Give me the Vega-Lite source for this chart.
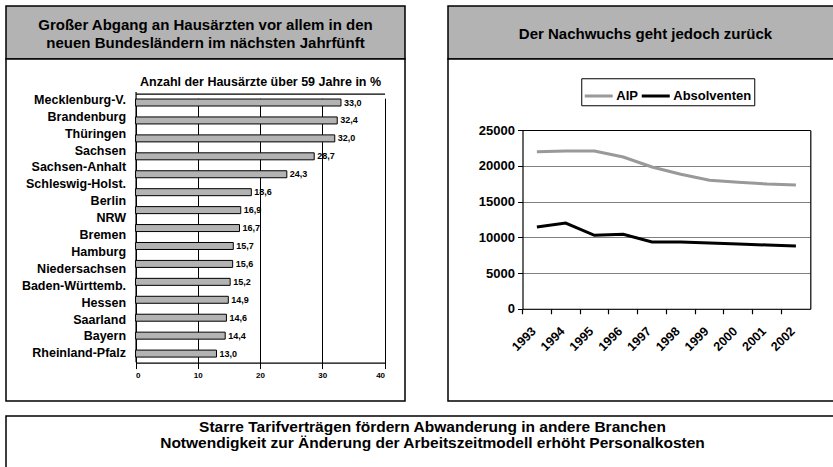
{
  "$schema": "https://vega.github.io/schema/vega-lite/v6.json",
  "padding": {"left": 5, "top": 5, "right": 0, "bottom": 0},
  "spacing": 13,
  "background": "white",
  "config": {
    "font": "Liberation Sans",
    "locale": {"number": {"decimal": ",", "thousands": ".", "grouping": [3], "currency": ["", " €"]}},
    "text": {"color": "black"}
  },
  "datasets": {
    "laender": [
      {"land": "Mecklenburg-V."}, {"land": "Brandenburg"}, {"land": "Thüringen"}, {"land": "Sachsen"},
      {"land": "Sachsen-Anhalt"}, {"land": "Schleswig-Holst."}, {"land": "Berlin"}, {"land": "NRW"},
      {"land": "Bremen"}, {"land": "Hamburg"}, {"land": "Niedersachsen"}, {"land": "Baden-Württemb."},
      {"land": "Hessen"}, {"land": "Saarland"}, {"land": "Bayern"}, {"land": "Rheinland-Pfalz"}
    ],
    "werte": [
      {"nr": 1, "wert": 33.0}, {"nr": 2, "wert": 32.4}, {"nr": 3, "wert": 32.0}, {"nr": 4, "wert": 28.7},
      {"nr": 5, "wert": 24.3}, {"nr": 6, "wert": 18.6}, {"nr": 7, "wert": 16.9}, {"nr": 8, "wert": 16.7},
      {"nr": 9, "wert": 15.7}, {"nr": 10, "wert": 15.6}, {"nr": 11, "wert": 15.2}, {"nr": 12, "wert": 14.9},
      {"nr": 13, "wert": 14.6}, {"nr": 14, "wert": 14.4}, {"nr": 15, "wert": 13.0}
    ],
    "nachwuchs": [
      {"jahr": "1993", "serie": "AIP", "wert": 22000}, {"jahr": "1994", "serie": "AIP", "wert": 22100},
      {"jahr": "1995", "serie": "AIP", "wert": 22100}, {"jahr": "1996", "serie": "AIP", "wert": 21250},
      {"jahr": "1997", "serie": "AIP", "wert": 19850}, {"jahr": "1998", "serie": "AIP", "wert": 18830},
      {"jahr": "1999", "serie": "AIP", "wert": 17990}, {"jahr": "2000", "serie": "AIP", "wert": 17710},
      {"jahr": "2001", "serie": "AIP", "wert": 17470}, {"jahr": "2002", "serie": "AIP", "wert": 17330},
      {"jahr": "1993", "serie": "Absolventen", "wert": 11450}, {"jahr": "1994", "serie": "Absolventen", "wert": 12010},
      {"jahr": "1995", "serie": "Absolventen", "wert": 10290}, {"jahr": "1996", "serie": "Absolventen", "wert": 10430},
      {"jahr": "1997", "serie": "Absolventen", "wert": 9350}, {"jahr": "1998", "serie": "Absolventen", "wert": 9350},
      {"jahr": "1999", "serie": "Absolventen", "wert": 9210}, {"jahr": "2000", "serie": "Absolventen", "wert": 9070},
      {"jahr": "2001", "serie": "Absolventen", "wert": 8930}, {"jahr": "2002", "serie": "Absolventen", "wert": 8790}
    ]
  },
  "vconcat": [
    {
      "columns": 2,
      "spacing": {"row": 0, "column": 43},
      "bounds": "flush",
      "concat": [
        {
          "width": 399, "height": 53,
          "view": {"fill": "#b3b3b3", "stroke": "black", "strokeWidth": 1.5},
          "data": {"values": [{}]},
          "mark": {"type": "text", "text": ["Großer Abgang an Hausärzten vor allem in den", "neuen Bundesländern im nächsten Jahrfünft"], "fontSize": 15, "fontWeight": "bold", "lineHeight": 18, "align": "center", "baseline": "middle", "dy": -7.5},
          "encoding": {}
        },
        {
          "width": 395, "height": 53,
          "view": {"fill": "#b3b3b3", "stroke": "black", "strokeWidth": 1.5},
          "data": {"values": [{}]},
          "mark": {"type": "text", "text": "Der Nachwuchs geht jedoch zurück", "fontSize": 15, "fontWeight": "bold", "align": "center", "baseline": "middle", "dy": 1},
          "encoding": {}
        },
        {
          "width": 399, "height": 342,
          "view": {"fill": "white", "stroke": "black", "strokeWidth": 1.5},
          "resolve": {"scale": {"y": "independent"}},
          "layer": [
            {
              "data": {"name": "laender"},
              "mark": {"type": "point", "opacity": 0},
              "encoding": {
                "y": {"field": "land", "type": "nominal", "sort": null,
                  "scale": {"type": "band", "range": [32.4, 302.8], "paddingInner": 0, "paddingOuter": 0},
                  "axis": {"orient": "left", "offset": -129.55, "title": null, "ticks": false, "labelPadding": 10, "labelFontSize": 12.5, "labelFontWeight": "bold", "labelColor": "black", "domainColor": "black", "domainWidth": 1.2, "grid": false, "labelLimit": 200}},
                "x": {"datum": 0, "type": "quantitative",
                  "scale": {"domain": [0, 40], "range": [129.55, 378.55], "nice": false},
                  "axis": {"orient": "bottom", "offset": -38.45, "values": [0, 10, 20, 30, 40], "title": null, "grid": true, "gridColor": "black", "gridWidth": 1, "tickSize": 3, "tickColor": "black", "labelPadding": 6, "labelFontSize": 8, "labelFontWeight": "bold", "labelColor": "black", "domainColor": "black", "domainWidth": 1.2}}
              }
            },
            {
              "data": {"name": "werte"},
              "encoding": {
                "y": {"field": "nr", "type": "ordinal",
                  "scale": {"type": "band", "range": [34.55, 303.55], "paddingInner": 0.61, "paddingOuter": 0.305},
                  "axis": null},
                "x": {"field": "wert", "type": "quantitative",
                  "scale": {"domain": [0, 40], "range": [129.55, 378.55], "nice": false},
                  "axis": {"orient": "top", "offset": -34.55, "title": "Anzahl der Hausärzte über 59 Jahre in %", "titleFontSize": 12.5, "titleFontWeight": "bold", "titleColor": "black", "titlePadding": 5, "labels": false, "ticks": false, "grid": false, "domainColor": "black", "domainWidth": 1.2}}
              },
              "layer": [
                {"mark": {"type": "bar", "fill": "#b3b3b3", "stroke": "black", "strokeWidth": 1}},
                {"mark": {"type": "text", "align": "left", "baseline": "middle", "dx": 3, "fontSize": 9, "fontWeight": "bold"},
                 "encoding": {"text": {"field": "wert", "type": "quantitative", "format": ".1f"}}}
              ]
            }
          ]
        },
        {
          "width": 395, "height": 342,
          "view": {"fill": "white", "stroke": "black", "strokeWidth": 1.5},
          "data": {"name": "nachwuchs"},
          "layer": [
            {
              "mark": {"type": "line", "strokeWidth": 3},
              "encoding": {
                "x": {"field": "jahr", "type": "ordinal",
                  "scale": {"type": "band", "range": [74.5, 362.3], "paddingInner": 0, "paddingOuter": 0},
                  "axis": {"orient": "bottom", "offset": -92.25, "title": null, "ticks": false, "labelAngle": -45, "labelAlign": "right", "labelBaseline": "middle", "labelPadding": 20, "labelOffset": -3, "labelFontSize": 12.5, "labelFontWeight": "bold", "labelColor": "black", "domainColor": "black", "domainWidth": 1.2, "grid": false}},
                "y": {"field": "wert", "type": "quantitative",
                  "scale": {"domain": [0, 25000], "range": [249.75, 71.25], "nice": false},
                  "axis": {"orient": "left", "offset": -74.5, "title": null, "values": [0, 5000, 10000, 15000, 20000, 25000], "format": "d", "grid": true,
                    "gridColor": {"condition": {"test": "datum.value === 25000", "value": "black"}, "value": "#808080"},
                    "gridWidth": 1, "tickSize": 5, "tickColor": "black", "labelPadding": 3, "labelFontSize": 13, "labelFontWeight": "bold", "labelColor": "black", "domainColor": "black", "domainWidth": 1.2}},
                "color": {"field": "serie", "type": "nominal",
                  "scale": {"domain": ["AIP", "Absolventen"], "range": ["#999999", "#000000"]},
                  "legend": {"orient": "none", "legendX": 575.25, "legendY": 72.25, "direction": "horizontal", "title": null, "strokeColor": "black", "fillColor": "white", "padding": 2, "symbolType": "stroke", "symbolStrokeWidth": 3, "symbolSize": 784, "labelFontSize": 13, "labelFontWeight": "bold", "labelColor": "black", "columnPadding": -3, "labelOffset": 2}}
              }
            },
            {
              "mark": {"type": "line", "strokeOpacity": 0},
              "encoding": {
                "x": {"field": "jahr", "type": "ordinal",
                  "scale": {"type": "band", "range": [74.5, 362.3], "paddingInner": 0, "paddingOuter": 0},
                  "axis": {"orient": "top", "offset": -249.75, "bandPosition": 0, "title": null, "labels": false, "ticks": true, "tickSize": -5, "tickColor": "black", "tickWidth": 1.2, "domain": false, "grid": false}},
                "y": {"field": "wert", "type": "quantitative",
                  "scale": {"domain": [0, 25000], "range": [249.75, 71.25], "nice": false},
                  "axis": {"orient": "right", "offset": -32.7, "title": null, "labels": false, "ticks": false, "grid": false, "domainColor": "black", "domainWidth": 1.2}},
                "detail": {"field": "serie"}
              }
            }
          ]
        }
      ]
    },
    {
      "width": 853, "height": 60,
      "view": {"fill": "white", "stroke": "black", "strokeWidth": 1.5},
      "data": {"values": [{}]},
      "mark": {"type": "text", "text": ["Starre Tarifverträgen fördern Abwanderung in andere Branchen", "Notwendigkeit zur Änderung der Arbeitszeitmodell erhöht Personalkosten"], "fontSize": 15.5, "fontWeight": "bold", "lineHeight": 16, "align": "center", "baseline": "middle", "dy": -19},
      "encoding": {}
    }
  ]
}
